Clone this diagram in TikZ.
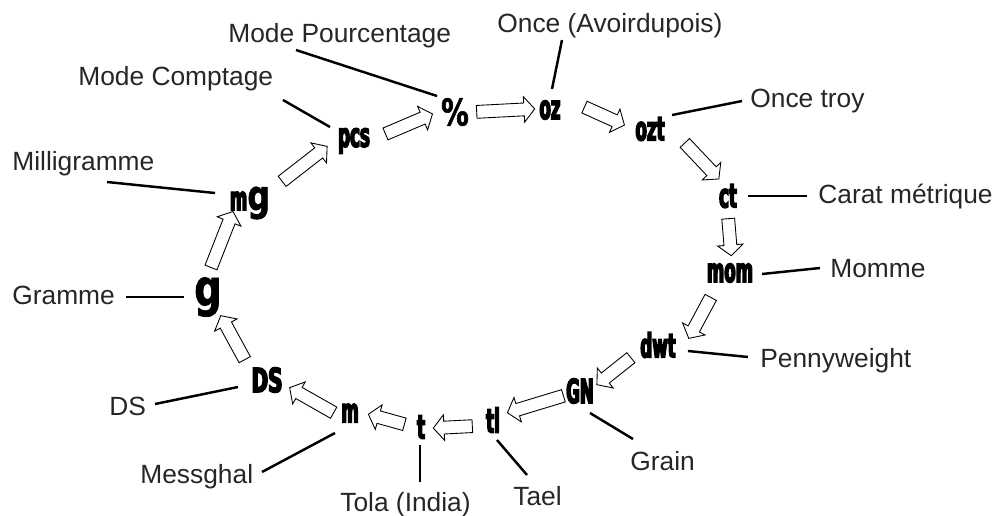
\documentclass[tikz,border=0pt]{standalone}
\usepackage{fontspec}
\setmainfont{Liberation Sans}
\newfontfamily\symfont{DejaVu Sans Bold}[FakeStretch=0.5, FakeBold=4]
\newfontfamily\widefont{DejaVu Sans Bold}[FakeStretch=0.75, FakeBold=1.5]
\usetikzlibrary{calc,shapes.arrows}

% hollow block arrow from a point near node #1 to a point near node #3
\newcommand{\flow}[4]{%
  \path let \p1=([shift={#2}]#1.center), \p2=([shift={#4}]#3.center),
    \n1={atan2(\y2-\y1,\x2-\x1)}, \n2={veclen(\x2-\x1,\y2-\y1)} in
    node[unitarrow, rotate=\n1, minimum height=\n2] at ($(\p1)!0.5!(\p2)$) {};}

\begin{document}
\begin{tikzpicture}[x=0.02cm, y=-0.02cm,
  sym/.style={font=\symfont\fontsize{19}{19}\selectfont, inner sep=0pt},
  lbl/.style={font=\fontsize{15}{18}\selectfont, text=black!85,
              inner sep=0pt, anchor=base west},
  lead/.style={line width=1.4pt},
  unitarrow/.style={single arrow, draw, fill=white, line width=0.5pt,
                    inner xsep=0pt, inner ysep=3.4pt,
                    single arrow head extend=3.6pt, single arrow tip angle=100}
]
  \useasboundingbox (0,0) rectangle (998,515);

  % units on the ring
  \node[sym] (pct) at (455,112) {\widefont\fontsize{21}{21}\selectfont\%};
  \node[sym] (oz)  at (550,110) {oz};
  \node[sym] (ozt) at (650,129) {ozt};
  \node[sym] (ct)  at (728,196) {ct};
  \node[sym] (mom) at (730,273) {mom};
  \node[sym] (dwt) at (658,345) {dwt};
  \node[sym] (gn)  at (580,391) {GN};
  \node[sym] (tl)  at (493,420) {tl};
  \node[sym] (t)   at (421,427) {t};
  \node[sym] (m)   at (350,413) {m};
  \node[sym] (ds)  at (267,380) {\scalebox{1.2}[1]{DS}};
  \node[sym] (g)   at (208,297) {\widefont\fontsize{29}{29}\selectfont g};
  \node[sym] (mg)  at (250,203) {m{\widefont\fontsize{24}{24}\selectfont g}};
  \node[sym] (pcs) at (354,141) {pcs};

  % names
  \node[lbl] (lpct) at (228,42)  {Mode Pourcentage};
  \node[lbl] (loz)  at (497,32)  {Once (Avoirdupois)};
  \node[lbl] (lpcs) at (78,85)   {Mode Comptage};
  \node[lbl] (lozt) at (750,107) {Once troy};
  \node[lbl] (lmg)  at (12,170)  {Milligramme};
  \node[lbl] (lct)  at (818,203) {Carat métrique};
  \node[lbl] (lmom) at (830,277) {Momme};
  \node[lbl] (lg)   at (12,304)  {Gramme};
  \node[lbl] (ldwt) at (760,367) {Pennyweight};
  \node[lbl] (lds)  at (109,415) {DS};
  \node[lbl] (lgn)  at (630,470) {Grain};
  \node[lbl] (lm)   at (140,483) {Messghal};
  \node[lbl] (lt)   at (340,511) {Tola (India)};
  \node[lbl] (ltl)  at (513,505) {Tael};

  % leaders
  \draw[lead] ([shift={(68,8)}]lpct.base west)   -- ([shift={(-18,-16)}]pct.center);
  \draw[lead] ([shift={(65,8)}]loz.base west)    -- ([shift={(2,-21)}]oz.center);
  \draw[lead] ([shift={(205,15)}]lpcs.base west) -- ([shift={(-24,-14)}]pcs.center);
  \draw[lead] ([shift={(-8,-6)}]lozt.base west)  -- ([shift={(22,-14)}]ozt.center);
  \draw[lead] ([shift={(95,12)}]lmg.base west)   -- ([shift={(-35,-10)}]mg.center);
  \draw[lead] ([shift={(-11,-7)}]lct.base west)  -- ([shift={(20,0)}]ct.center);
  \draw[lead] ([shift={(-10,-9)}]lmom.base west) -- ([shift={(32,1)}]mom.center);
  \draw[lead] ([shift={(114,-7)}]lg.base west)   -- ([shift={(-24,0)}]g.center);
  \draw[lead] ([shift={(-12,-10)}]ldwt.base west)-- ([shift={(30,6)}]dwt.center);
  \draw[lead] ([shift={(46,-11)}]lds.base west)  -- ([shift={(-29,7)}]ds.center);
  \draw[lead] ([shift={(3,-31)}]lgn.base west)   -- ([shift={(10,22)}]gn.center);
  \draw[lead] ([shift={(122,-11)}]lm.base west)  -- ([shift={(-15,20)}]m.center);
  \draw[lead] ([shift={(80,-29)}]lt.base west)   -- ([shift={(-1,18)}]t.center);
  \draw[lead] ([shift={(14,-30)}]ltl.base west)  -- ([shift={(4,20)}]tl.center);

  % cycle of arrows
  \flow{pcs}{(29,-6)}{pct}{(-25,3)}
  \flow{pct}{(19,0)}{oz}{(-18,-1)}
  \flow{oz}{(32,-4)}{ozt}{(-28,-5)}
  \flow{ozt}{(33,12)}{ct}{(-11,-19)}
  \flow{ct}{(0,20)}{mom}{(1,-20)}
  \flow{mom}{(-18,22)}{dwt}{(32,-9)}
  \flow{dwt}{(-25,11)}{gn}{(19,-8)}
  \flow{gn}{(-14,4)}{tl}{(17,-8)}
  \flow{tl}{(-18,6)}{t}{(15,1)}
  \flow{t}{(-14,-2)}{m}{(21,2)}
  \flow{m}{(-14,1)}{ds}{(25,9)}
  \flow{ds}{(-21,-18)}{g}{(14,21)}
  \flow{g}{(2,-27)}{mg}{(-18,11)}
  \flow{mg}{(30,-20)}{pcs}{(-29,7)}
\end{tikzpicture}
\end{document}
